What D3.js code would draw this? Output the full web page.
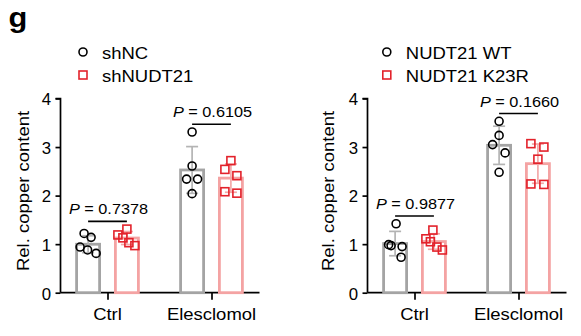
<!DOCTYPE html>
<html>
<head>
<meta charset="utf-8">
<script src="https://cdn.jsdelivr.net/npm/d3@7"></script>
<style>
  html, body { margin: 0; padding: 0; background: #fff; }
  svg { display: block; font-family: "Liberation Sans", Arial, sans-serif; }
</style>
</head>
<body>
<svg id="chart" width="581" height="336"></svg>
<script>
// ---- data ----
const categories = ["Ctrl", "Elesclomol"];
const yTicks = [0, 1, 2, 3, 4];

const seriesLeft = ["shNC", "shNUDT21"];
const shNC_ctrl = [1.22, 1.14, 0.94, 0.88, 0.81];
const shNC_eles = [3.31, 2.61, 2.34, 2.34, 2.04];
const shNUDT21_ctrl = [1.31, 1.19, 1.13, 1.03, 0.97];
const shNUDT21_eles = [2.72, 2.54, 2.41, 2.08, 2.05];
const pLeft = ["0.7378", "0.6105"];

const seriesRight = ["NUDT21 WT", "NUDT21 K23R"];
const wt_ctrl = [1.42, 0.99, 0.97, 0.95, 0.73];
const wt_eles = [3.53, 3.24, 3.05, 2.88, 2.48];
const k23r_ctrl = [1.29, 1.11, 1.05, 0.94, 0.88];
const k23r_eles = [3.07, 3.00, 2.75, 2.24, 2.23];
const pRight = ["0.9877", "0.1660"];

// horizontal scatter of the replicate dots (px)
const jitterLeft = [
  [[-4, 3, -8, -0.5, 8], [0, -9, -4, 2, 8]],
  [[0, 0, -5.5, 5.5, 0], [0, -6, 6, -6, 6]]
];
const jitterRight = [
  [[1, -6.5, -4, 7, 6], [-1, -8, -3.5, 3, 8.5]],
  [[0, 0, -6.5, 6, 0], [-7, 6, 0, -7, 6]]
];

// ---- styles ----
const greyBar = "#a4a4a4", greyErr = "#b4b4b4";
const pinkBar = "#f4a3a3", pinkErr = "#f3a9a9";
const redPt = "#e3222b";
const textStretch = 1.1;

const svg = d3.select("#chart");

function stretchedText(g, x, y, str, size, opts = {}) {
  const rot = opts.rotate ? ` rotate(${opts.rotate})` : "";
  return g.append("text")
    .attr("transform", `translate(${x},${y})${rot} scale(${opts.sx || textStretch},1)`)
    .attr("font-size", size)
    .attr("text-anchor", opts.anchor || "start")
    .attr("dominant-baseline", opts.baseline || "auto")
    .attr("font-weight", opts.weight || "normal")
    .attr("fill", "#000")
    .text(str);
}

const mean = a => d3.mean(a);
const sd = a => d3.deviation(a);

function drawPanel(cfg) {
  const g = svg.append("g");
  const y = d3.scaleLinear().domain([0, 4]).range([292.7, 98.5]);
  const x = d3.scalePoint().domain(categories).range([cfg.x0 + 47, cfg.x0 + 151]);
  const sub = d3.scalePoint().domain(cfg.series).range([-19.4, 19.4]);

  // y axis
  const yAxis = d3.axisLeft(y).tickValues(yTicks).tickSize(5).tickPadding(5).tickFormat(d3.format("d"));
  const ya = g.append("g").attr("transform", `translate(${cfg.x0},0)`).call(yAxis);
  ya.select(".domain").attr("stroke", "#000").attr("stroke-width", 1.7);
  ya.selectAll(".tick line").attr("stroke", "#000").attr("stroke-width", 1.7);
  ya.selectAll(".tick text").remove();
  ya.selectAll(".tick").each(function (d) {
    stretchedText(d3.select(this), -9.5, 0.5, d, 16, { anchor: "end", baseline: "central", sx: 1.05 });
  });
  ya.select(".domain").attr("d", `M0,${y(0)}V${y(4)}H-5`);

  // x axis
  const xAxis = d3.axisBottom(x).tickSize(7).tickFormat("");
  const xa = g.append("g").attr("transform", `translate(0,${y(0)})`).call(xAxis);
  xa.select(".domain").attr("d", `M${cfg.x0},0H${cfg.x0 + 199}`).attr("stroke", "#000").attr("stroke-width", 1.7);
  xa.selectAll(".tick line").attr("stroke", "#000").attr("stroke-width", 1.7);
  categories.forEach(c => stretchedText(g, x(c), 320, c, 16.8, { anchor: "middle" }));

  // y title
  stretchedText(g, cfg.x0 + cfg.titleDx, 191, "Rel. copper content", 16.8,
    { anchor: "middle", rotate: -90, sx: 1.1 });

  // bars, error bars, dots
  const colors = [
    { bar: greyBar, err: greyErr, pt: "#000", shape: "circle" },
    { bar: pinkBar, err: pinkErr, pt: redPt, shape: "square" }
  ];
  categories.forEach((c, ci) => {
    cfg.series.forEach((s, si) => {
      const vals = cfg.values[ci][si];
      const m = mean(vals), e = sd(vals);
      const cx = x(c) + sub(s);
      const col = colors[si];
      g.append("rect")
        .attr("x", cx - 11.5).attr("width", 23)
        .attr("y", y(m)).attr("height", y(0) - y(m))
        .attr("fill", "#fff").attr("stroke", col.bar).attr("stroke-width", 2.8);
      const eg = g.append("g").attr("stroke", col.err).attr("stroke-width", 1.7).attr("fill", "none");
      eg.append("line").attr("x1", cx).attr("x2", cx).attr("y1", y(m + e)).attr("y2", y(m - e));
      [m + e, m - e].forEach(v => eg.append("line")
        .attr("x1", cx - 6).attr("x2", cx + 6).attr("y1", y(v)).attr("y2", y(v)));
      vals.forEach((v, vi) => {
        const px = cx + cfg.jitter[ci][si][vi];
        if (col.shape === "circle") {
          g.append("circle").attr("cx", px).attr("cy", y(v)).attr("r", 4)
            .attr("fill", "none").attr("stroke", col.pt).attr("stroke-width", 1.6);
        } else {
          g.append("rect").attr("x", px - 4).attr("y", y(v) - 4).attr("width", 8).attr("height", 8)
            .attr("fill", "none").attr("stroke", col.pt).attr("stroke-width", 1.6);
        }
      });
    });

    // significance line + P value
    const all = cfg.values[ci][0].concat(cfg.values[ci][1]);
    const ly = y(d3.max(all) + 0.16);
    const xa0 = x(c) + sub(cfg.series[0]), xa1 = x(c) + sub(cfg.series[1]);
    g.append("line").attr("x1", xa0).attr("x2", xa1).attr("y1", ly).attr("y2", ly)
      .attr("stroke", "#000").attr("stroke-width", 1.6);
    const t = g.append("text")
      .attr("transform", `translate(${(xa0 + xa1) / 2 + 1},${ly - 7}) scale(1.05,1)`)
      .attr("font-size", 15.5).attr("text-anchor", "middle").attr("fill", "#000");
    t.append("tspan").attr("font-style", "italic").text("P");
    t.append("tspan").text(" = " + cfg.p[ci]);
  });

  // legend
  const lx = cfg.x0 + cfg.legendDx;
  g.append("circle").attr("cx", lx).attr("cy", 52).attr("r", 4)
    .attr("fill", "none").attr("stroke", "#000").attr("stroke-width", 1.6);
  g.append("rect").attr("x", lx - 4).attr("y", 75 - 4).attr("width", 8).attr("height", 8)
    .attr("fill", "none").attr("stroke", redPt).attr("stroke-width", 1.6);
  stretchedText(g, lx + 19, 58.5, cfg.series[0], 16.8);
  stretchedText(g, lx + 19, 81.7, cfg.series[1], 16.8);
}

// panel letter
stretchedText(svg, 8.5, 27, "g", 28, { weight: "bold", sx: 1.1 });

drawPanel({
  x0: 60.5, titleDx: -32, legendDx: 22.5,
  series: seriesLeft,
  values: [[shNC_ctrl, shNUDT21_ctrl], [shNC_eles, shNUDT21_eles]],
  jitter: jitterLeft, p: pLeft
});
drawPanel({
  x0: 367.5, titleDx: -34, legendDx: 19.3,
  series: seriesRight,
  values: [[wt_ctrl, k23r_ctrl], [wt_eles, k23r_eles]],
  jitter: jitterRight, p: pRight
});
</script>
</body>
</html>
